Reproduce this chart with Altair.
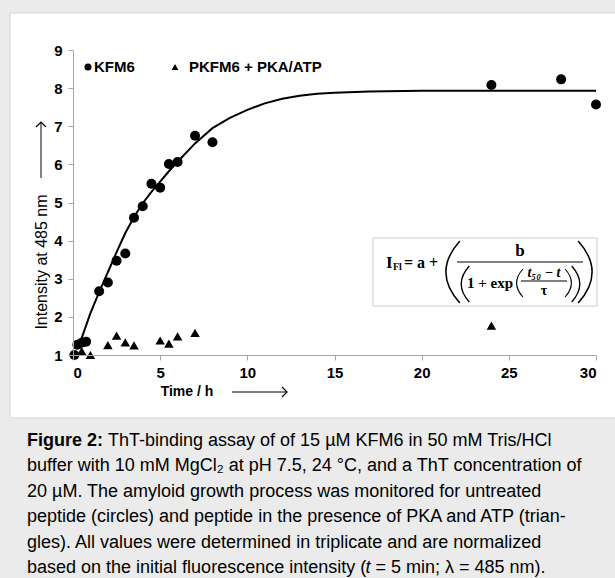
import altair as alt
import pandas as pd

# ---- data ----
kfm_t = [0.08, 0.25, 0.5, 0.75, 1.5, 2, 2.5, 3, 3.5, 4, 4.5, 5, 5.5, 6, 7, 8, 24, 28, 30]
kfm_y = [1.0, 1.27, 1.32, 1.35, 2.67, 2.9, 3.47, 3.66, 4.6, 4.9, 5.49, 5.39, 6.01, 6.06, 6.75, 6.58, 8.08, 8.23, 7.57]

pk_t = [0.5, 1, 2, 2.5, 3, 3.5, 5, 5.5, 6, 7, 24]
pk_y = [1.1, 1.0, 1.26, 1.51, 1.33, 1.25, 1.38, 1.3, 1.49, 1.58, 1.77]

fit_t = [0.4, 1, 1.5, 2, 2.5, 3, 3.5, 4, 4.5, 5, 5.5, 6, 7, 8, 9, 10, 11, 12, 13, 14, 15, 17, 20, 25, 30]
fit_y = [1.32, 2.1, 2.65, 3.17, 3.7, 4.2, 4.62, 4.98, 5.28, 5.55, 5.82, 6.07, 6.55, 6.95, 7.22, 7.43, 7.6, 7.72, 7.8, 7.85, 7.88, 7.91, 7.93, 7.93, 7.93]

x_ticks = [0, 5, 10, 15, 20, 25, 30]
y_ticks = [1, 2, 3, 4, 5, 6, 7, 8, 9]

caption_lines = [
    "buffer with 10 mM MgCl\u2082 at pH 7.5, 24 \u00b0C, and a ThT concentration of",
    "20 \u00b5M. The amyloid growth process was monitored for untreated",
    "peptide (circles) and peptide in the presence of PKA and ATP (trian-",
    "gles). All values were determined in triplicate and are normalized",
]

W, H = 523, 305
SANS = "Liberation Sans"
SERIF = "Liberation Serif"
anchor = pd.DataFrame({"a": [0]})

df_k = pd.DataFrame({"t": kfm_t, "y": kfm_y})
df_p = pd.DataFrame({"t": pk_t, "y": pk_y})
df_f = pd.DataFrame({"t": fit_t, "y": fit_y})

axis_common = dict(
    domainColor="#a6a6a6", tickColor="#a6a6a6", tickSize=5, grid=False,
    labelFont=SANS, labelFontWeight="bold", labelFontSize=15, labelColor="black",
    title=None, zindex=1,
)
xs = alt.X("t:Q", scale=alt.Scale(domain=[0, 30], nice=False),
           axis=alt.Axis(values=x_ticks, labelPadding=5, **axis_common))
ys = alt.Y("y:Q", scale=alt.Scale(domain=[1, 9], nice=False, zero=False),
           axis=alt.Axis(values=y_ticks, labelPadding=6, **axis_common))


def txt(s, x, y, size, weight="normal", align="left", font=SANS, style="normal", angle=None):
    kw = dict(text=s, fontSize=size, fontWeight=weight, align=align, font=font,
              fontStyle=style, baseline="middle", color="black")
    if angle is not None:
        kw["angle"] = angle
    return alt.Chart(anchor).mark_text(**kw).encode(x=alt.value(x), y=alt.value(y))


def rule(x1, x2, y1, y2, width=1.0, color="black"):
    return alt.Chart(anchor).mark_rule(color=color, strokeWidth=width).encode(
        x=alt.value(x1), x2=alt.value(x2), y=alt.value(y1), y2=alt.value(y2))


def rect(x1, x2, y1, y2, fill, stroke=None):
    kw = dict(fill=fill)
    if stroke:
        kw.update(stroke=stroke, strokeWidth=1)
    return alt.Chart(anchor).mark_rect(**kw).encode(
        x=alt.value(x1), x2=alt.value(x2), y=alt.value(y1), y2=alt.value(y2))


def sym(path, x, y, height, width=1.2):
    return alt.Chart(anchor).mark_point(shape=path, filled=False, stroke="black",
                                        strokeWidth=width, size=height * height, opacity=1).encode(
        x=alt.value(x), y=alt.value(y))


LP = "M0.35,-1Q-0.55,0 0.35,1"
RP = "M-0.35,-1Q0.55,0 -0.35,1"

layers = []
# white panel
layers.append(rect(-63, 560, -37, 368, "white", "#d6d6d6"))

# data
layers.append(alt.Chart(df_f).mark_line(color="black", strokeWidth=2).encode(x=xs, y=ys))
layers.append(alt.Chart(df_k).mark_point(shape="circle", filled=True, color="black", size=100, opacity=1).encode(x=xs, y=ys))
layers.append(alt.Chart(df_p).mark_point(shape="triangle-up", filled=True, color="black", size=90, opacity=1).encode(x=xs, y=ys))

# legend
layers.append(alt.Chart(anchor).mark_point(shape="circle", filled=True, color="black", size=50, opacity=1).encode(x=alt.value(15), y=alt.value(17)))
layers.append(txt("KFM6", 21, 17, 15, "bold"))
layers.append(alt.Chart(anchor).mark_point(shape="triangle-up", filled=True, color="black", size=45, opacity=1).encode(x=alt.value(102), y=alt.value(17)))
layers.append(txt("PKFM6 + PKA/ATP", 116, 17, 15, "bold"))

# axis titles with arrows
layers.append(txt("Intensity at 485 nm", -31, 212, 16, angle=270, align="center"))
layers.append(rule(-32, -32, 72, 128))
layers.append(sym("M-1,1L0,0L1,1", -32, 72, 10))
layers.append(txt("Time / h", 114, 342, 14, "bold", align="center"))
layers.append(rule(159, 214, 342, 342))
layers.append(sym("M-1,-1L0,0L-1,1", 214, 342, 10))

# formula box
layers.append(rect(300, 524, 188, 256, "white", "#cccccc"))
layers.append(txt("I", 313, 213, 17, "bold", font=SERIF))
layers.append(txt("Fl", 320, 217, 10, "bold", font=SERIF))
layers.append(txt("= a +", 331, 213, 16, "bold", font=SERIF))
layers.append(sym(LP, 376, 222, 62, 1.5))
layers.append(txt("b", 447, 201, 17, "bold", align="center", font=SERIF))
layers.append(rule(384, 510, 212, 212, 1))
layers.append(sym(LP, 390, 234, 36, 1.3))
layers.append(txt("1 + exp", 394, 233, 15, "bold", font=SERIF))
layers.append(sym(LP, 445, 233, 28, 1.1))
layers.append(txt("t\u2085\u2080 \u2212 t", 471, 223, 14, "bold", align="center", font=SERIF, style="italic"))
layers.append(rule(448, 494, 231, 231, 1))
layers.append(txt("\u03c4", 471, 241, 14, "bold", align="center", font=SERIF))
layers.append(sym(RP, 497, 233, 28, 1.1))
layers.append(sym(RP, 505, 234, 36, 1.3))
layers.append(sym(RP, 516, 222, 62, 1.5))

# caption
CX = -46
CS = 18
CY0 = 391
DY = 25.4
layers.append(txt("Figure 2:", CX, CY0, CS, "bold"))
layers.append(txt("ThT-binding assay of of 15 \u00b5M KFM6 in 50 mM Tris/HCl", CX + 81, CY0, CS))
for i, line in enumerate(caption_lines):
    layers.append(txt(line, CX, CY0 + DY * (i + 1), CS))
last_y = CY0 + DY * 5
pre = "based on the initial fluorescence intensity ("
layers.append(txt(pre, CX, last_y, CS))
layers.append(txt("t", CX + 338.5, last_y, CS, style="italic"))
layers.append(txt("= 5 min; \u03bb = 485 nm).", CX + 338.5 + 10, last_y, CS))

chart = alt.layer(*layers).properties(
    width=W, height=H,
    background="#ebebeb",
    padding={"left": 73, "top": 50, "right": 19, "bottom": 223},
    autosize=alt.AutoSizeParams(type="none"),
).configure_view(stroke=None)

chart.save("out.html", embed_options={"renderer": "svg", "actions": False})
